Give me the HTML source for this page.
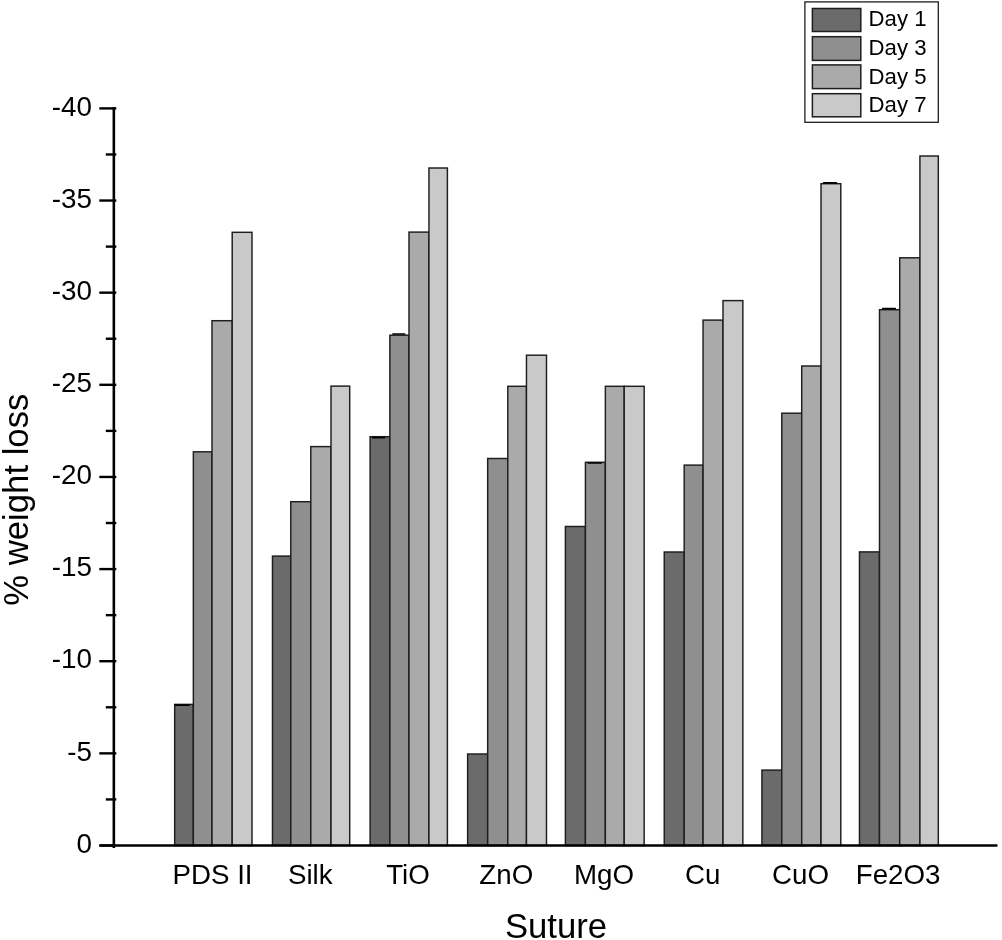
<!DOCTYPE html>
<html><head><meta charset="utf-8"><style>
html,body{margin:0;padding:0;background:#fff;}
body{width:1002px;height:940px;overflow:hidden;}
svg{display:block;will-change:transform;}
text{font-family:"Liberation Sans",sans-serif;fill:#000;}
.yl{font-size:27.8px;}
.xl{font-size:27.7px;}
.at{font-size:34.7px;}
.lg{font-size:22.2px;}
</style></head><body>
<svg width="1002" height="940" viewBox="0 0 1002 940">
<rect x="174.67" y="704.40" width="18.68" height="141.10" fill="#6b6b6b" stroke="#1e1e1e" stroke-width="1.45"/>
<line x1="175.40" x2="189.00" y1="705.10" y2="705.10" stroke="#000" stroke-width="1.7" stroke-linecap="round"/>
<rect x="193.35" y="451.80" width="18.65" height="393.70" fill="#8f8f8f" stroke="#1e1e1e" stroke-width="1.45"/>
<rect x="212.00" y="320.70" width="20.20" height="524.80" fill="#aaaaaa" stroke="#1e1e1e" stroke-width="1.45"/>
<rect x="232.20" y="232.30" width="19.80" height="613.20" fill="#c9c9c9" stroke="#1e1e1e" stroke-width="1.45"/>
<text x="212.53" y="883.6" text-anchor="middle" class="xl">PDS II</text>
<rect x="272.46" y="556.10" width="18.32" height="289.40" fill="#6b6b6b" stroke="#1e1e1e" stroke-width="1.45"/>
<rect x="290.78" y="501.70" width="20.02" height="343.80" fill="#8f8f8f" stroke="#1e1e1e" stroke-width="1.45"/>
<rect x="310.80" y="446.60" width="20.20" height="398.90" fill="#aaaaaa" stroke="#1e1e1e" stroke-width="1.45"/>
<rect x="331.00" y="386.10" width="18.70" height="459.40" fill="#c9c9c9" stroke="#1e1e1e" stroke-width="1.45"/>
<text x="310.28" y="883.6" text-anchor="middle" class="xl">Silk</text>
<rect x="370.12" y="436.70" width="19.76" height="408.80" fill="#6b6b6b" stroke="#1e1e1e" stroke-width="1.45"/>
<line x1="372.75" x2="384.45" y1="437.60" y2="437.60" stroke="#000" stroke-width="1.7" stroke-linecap="round"/>
<rect x="389.88" y="335.20" width="19.12" height="510.30" fill="#8f8f8f" stroke="#1e1e1e" stroke-width="1.45"/>
<line x1="392.95" x2="404.65" y1="334.00" y2="334.00" stroke="#000" stroke-width="1.7" stroke-linecap="round"/>
<rect x="409.00" y="232.10" width="19.95" height="613.40" fill="#aaaaaa" stroke="#1e1e1e" stroke-width="1.45"/>
<rect x="428.95" y="168.00" width="18.45" height="677.50" fill="#c9c9c9" stroke="#1e1e1e" stroke-width="1.45"/>
<text x="407.96" y="883.6" text-anchor="middle" class="xl">TiO</text>
<rect x="467.63" y="754.00" width="20.04" height="91.50" fill="#6b6b6b" stroke="#1e1e1e" stroke-width="1.45"/>
<rect x="487.67" y="458.50" width="20.12" height="387.00" fill="#8f8f8f" stroke="#1e1e1e" stroke-width="1.45"/>
<rect x="507.79" y="386.30" width="18.68" height="459.20" fill="#aaaaaa" stroke="#1e1e1e" stroke-width="1.45"/>
<rect x="526.47" y="355.20" width="20.03" height="490.30" fill="#c9c9c9" stroke="#1e1e1e" stroke-width="1.45"/>
<text x="506.26" y="883.6" text-anchor="middle" class="xl">ZnO</text>
<rect x="565.39" y="526.50" width="20.03" height="319.00" fill="#6b6b6b" stroke="#1e1e1e" stroke-width="1.45"/>
<rect x="585.42" y="462.30" width="19.94" height="383.20" fill="#8f8f8f" stroke="#1e1e1e" stroke-width="1.45"/>
<line x1="588.30" x2="601.10" y1="463.00" y2="463.00" stroke="#000" stroke-width="1.7" stroke-linecap="round"/>
<rect x="605.36" y="386.30" width="18.86" height="459.20" fill="#aaaaaa" stroke="#1e1e1e" stroke-width="1.45"/>
<rect x="624.22" y="386.30" width="19.94" height="459.20" fill="#c9c9c9" stroke="#1e1e1e" stroke-width="1.45"/>
<text x="603.98" y="883.6" text-anchor="middle" class="xl">MgO</text>
<rect x="664.25" y="552.00" width="19.94" height="293.50" fill="#6b6b6b" stroke="#1e1e1e" stroke-width="1.45"/>
<rect x="684.19" y="465.10" width="18.86" height="380.40" fill="#8f8f8f" stroke="#1e1e1e" stroke-width="1.45"/>
<rect x="703.05" y="320.10" width="19.95" height="525.40" fill="#aaaaaa" stroke="#1e1e1e" stroke-width="1.45"/>
<rect x="723.00" y="300.60" width="19.85" height="544.90" fill="#c9c9c9" stroke="#1e1e1e" stroke-width="1.45"/>
<text x="702.75" y="883.6" text-anchor="middle" class="xl">Cu</text>
<rect x="761.92" y="770.10" width="19.85" height="75.40" fill="#6b6b6b" stroke="#1e1e1e" stroke-width="1.45"/>
<rect x="781.77" y="413.20" width="19.94" height="432.30" fill="#8f8f8f" stroke="#1e1e1e" stroke-width="1.45"/>
<rect x="801.71" y="366.00" width="19.31" height="479.50" fill="#aaaaaa" stroke="#1e1e1e" stroke-width="1.45"/>
<rect x="821.02" y="183.70" width="19.76" height="661.80" fill="#c9c9c9" stroke="#1e1e1e" stroke-width="1.45"/>
<line x1="823.70" x2="836.50" y1="182.80" y2="182.80" stroke="#000" stroke-width="1.7" stroke-linecap="round"/>
<text x="800.55" y="883.6" text-anchor="middle" class="xl">CuO</text>
<rect x="859.47" y="551.90" width="20.03" height="293.60" fill="#6b6b6b" stroke="#1e1e1e" stroke-width="1.45"/>
<rect x="879.50" y="309.70" width="20.21" height="535.80" fill="#8f8f8f" stroke="#1e1e1e" stroke-width="1.45"/>
<line x1="882.75" x2="895.25" y1="308.60" y2="308.60" stroke="#000" stroke-width="1.7" stroke-linecap="round"/>
<rect x="899.71" y="257.80" width="20.21" height="587.70" fill="#aaaaaa" stroke="#1e1e1e" stroke-width="1.45"/>
<rect x="919.92" y="156.00" width="18.41" height="689.50" fill="#c9c9c9" stroke="#1e1e1e" stroke-width="1.45"/>
<text x="898.10" y="883.6" text-anchor="middle" class="xl">Fe2O3</text>
<line x1="113.85" x2="113.85" y1="107.1" y2="848" stroke="#000" stroke-width="2.6"/>
<line x1="99.5" x2="997.5" y1="845.5" y2="845.5" stroke="#000" stroke-width="2.4"/>
<line x1="99.3" x2="114" y1="845.50" y2="845.50" stroke="#000" stroke-width="2.4"/>
<text x="92" y="852.70" text-anchor="end" class="yl">0</text>
<line x1="105.8" x2="116.3" y1="799.43" y2="799.43" stroke="#000" stroke-width="2.4"/>
<line x1="99.3" x2="116.3" y1="753.36" y2="753.36" stroke="#000" stroke-width="2.4"/>
<text x="92" y="760.56" text-anchor="end" class="yl">-5</text>
<line x1="105.8" x2="116.3" y1="707.29" y2="707.29" stroke="#000" stroke-width="2.4"/>
<line x1="99.3" x2="116.3" y1="661.22" y2="661.22" stroke="#000" stroke-width="2.4"/>
<text x="92" y="668.42" text-anchor="end" class="yl">-10</text>
<line x1="105.8" x2="116.3" y1="615.16" y2="615.16" stroke="#000" stroke-width="2.4"/>
<line x1="99.3" x2="116.3" y1="569.09" y2="569.09" stroke="#000" stroke-width="2.4"/>
<text x="92" y="576.29" text-anchor="end" class="yl">-15</text>
<line x1="105.8" x2="116.3" y1="523.02" y2="523.02" stroke="#000" stroke-width="2.4"/>
<line x1="99.3" x2="116.3" y1="476.95" y2="476.95" stroke="#000" stroke-width="2.4"/>
<text x="92" y="484.15" text-anchor="end" class="yl">-20</text>
<line x1="105.8" x2="116.3" y1="430.88" y2="430.88" stroke="#000" stroke-width="2.4"/>
<line x1="99.3" x2="116.3" y1="384.81" y2="384.81" stroke="#000" stroke-width="2.4"/>
<text x="92" y="392.01" text-anchor="end" class="yl">-25</text>
<line x1="105.8" x2="116.3" y1="338.74" y2="338.74" stroke="#000" stroke-width="2.4"/>
<line x1="99.3" x2="116.3" y1="292.67" y2="292.67" stroke="#000" stroke-width="2.4"/>
<text x="92" y="299.87" text-anchor="end" class="yl">-30</text>
<line x1="105.8" x2="116.3" y1="246.61" y2="246.61" stroke="#000" stroke-width="2.4"/>
<line x1="99.3" x2="116.3" y1="200.54" y2="200.54" stroke="#000" stroke-width="2.4"/>
<text x="92" y="207.74" text-anchor="end" class="yl">-35</text>
<line x1="105.8" x2="116.3" y1="154.47" y2="154.47" stroke="#000" stroke-width="2.4"/>
<line x1="99.3" x2="116.3" y1="108.40" y2="108.40" stroke="#000" stroke-width="2.4"/>
<text x="92" y="115.60" text-anchor="end" class="yl">-40</text>
<text x="556" y="937.5" text-anchor="middle" class="at">Suture</text>
<text transform="translate(28,499.7) rotate(-90)" text-anchor="middle" class="at">% weight loss</text>
<rect x="804.9" y="1.9" width="133.4" height="120.4" fill="#fff" stroke="#1e1e1e" stroke-width="1.3"/>
<rect x="812.4" y="8.50" width="48.4" height="23.00" fill="#6b6b6b" stroke="#1e1e1e" stroke-width="1.5"/>
<text x="868.6" y="26.40" class="lg">Day 1</text>
<rect x="812.4" y="36.70" width="48.4" height="23.70" fill="#8f8f8f" stroke="#1e1e1e" stroke-width="1.5"/>
<text x="868.6" y="55.30" class="lg">Day 3</text>
<rect x="812.4" y="64.90" width="48.4" height="23.70" fill="#aaaaaa" stroke="#1e1e1e" stroke-width="1.5"/>
<text x="868.6" y="83.50" class="lg">Day 5</text>
<rect x="812.4" y="93.70" width="48.4" height="23.10" fill="#c9c9c9" stroke="#1e1e1e" stroke-width="1.5"/>
<text x="868.6" y="111.70" class="lg">Day 7</text>
</svg>
</body></html>
